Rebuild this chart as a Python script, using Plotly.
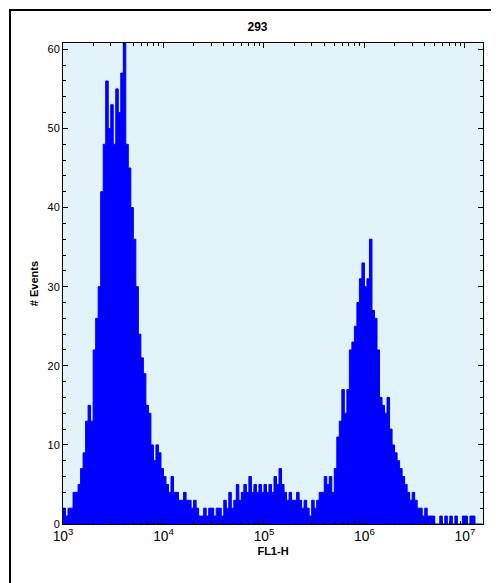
import plotly.graph_objects as go

# log10 bin left edges start and width
log_start = 3.0
log_step = 0.025
counts_dec3 = [2,1,2,2,4,4,5,7,9,13,15,13,22,26,30,42,48,56,50,53,48,55,52,57,61,48,45,40,36,30,24,21,19,15,14,10,8,10,9,7]
counts_dec4 = [6,5,4,6,4,4,3,3,4,3,3,2,3,2,1,1,2,1,2,2,1,2,2,1,3,2,4,2,3,5,3,4,5,4,6,4,5,4,5,4]
counts_dec5 = [5,4,5,4,6,5,7,5,4,3,4,3,3,4,3,2,3,2,1,3,2,3,4,4,6,5,6,4,7,11,13,17,14,17,22,23,25,28,31,33]
counts_dec6 = [30,31,36,27,26,22,16,15,14,16,12,10,9,8,7,6,5,4,3,4,3,2,2,1,2,1,1,1,0,0,1,0,1,0,1,0,1,0,0,1]
counts_dec7 = [1,0,1,1,0,0,0]
counts = counts_dec3 + counts_dec4 + counts_dec5 + counts_dec6 + counts_dec7

edges = [10 ** (log_start + i * log_step) for i in range(len(counts) + 1)]
ys = counts + [counts[-1]]

fig = go.Figure(go.Scatter(x=edges, y=ys, mode="lines", line=dict(shape="hv", color="#0000ff", width=1),
                           fill="tozeroy", fillcolor="#0000ff", hoverinfo="skip"))

axis_common = dict(showgrid=False, zeroline=False, showline=True, linecolor="black", linewidth=1,
                   mirror="ticks", ticks="inside", ticklen=5, tickcolor="black",
                   tickfont=dict(family="Arial, Liberation Sans", size=11, color="black"))
fig.update_xaxes(type="log", range=[3, 7.18], dtick=1, exponentformat="power", showexponent="all",
                 minor=dict(ticks="inside", ticklen=3, tickcolor="black", showgrid=False),
                 title=dict(text="<b>FL1-H</b>", font=dict(size=11, family="Arial, Liberation Sans", color="black"), standoff=4),
                 **axis_common)
fig.update_yaxes(range=[0, 60.8], dtick=10,
                 minor=dict(ticks="inside", ticklen=3, dtick=2, tickcolor="black", showgrid=False),
                 title=dict(text="<b># Events</b>", font=dict(size=11, family="Arial, Liberation Sans", color="black"), standoff=6),
                 **axis_common)
fig.update_layout(width=499, height=583, margin=dict(l=55, r=24, t=35, b=67),
                  plot_bgcolor="#e2f4fa", paper_bgcolor="white", showlegend=False,
                  title=dict(text="<b>293</b>", x=0.5, xanchor="center", y=0.975,
                             font=dict(size=12, family="Arial, Liberation Sans", color="black")),
                  shapes=[dict(type="rect", xref="paper", yref="paper", x0=-53/420, x1=1+21/420,
                               y0=-64/481, y1=1+33/481, line=dict(color="black", width=2))])
fig.write_html("out.html")
